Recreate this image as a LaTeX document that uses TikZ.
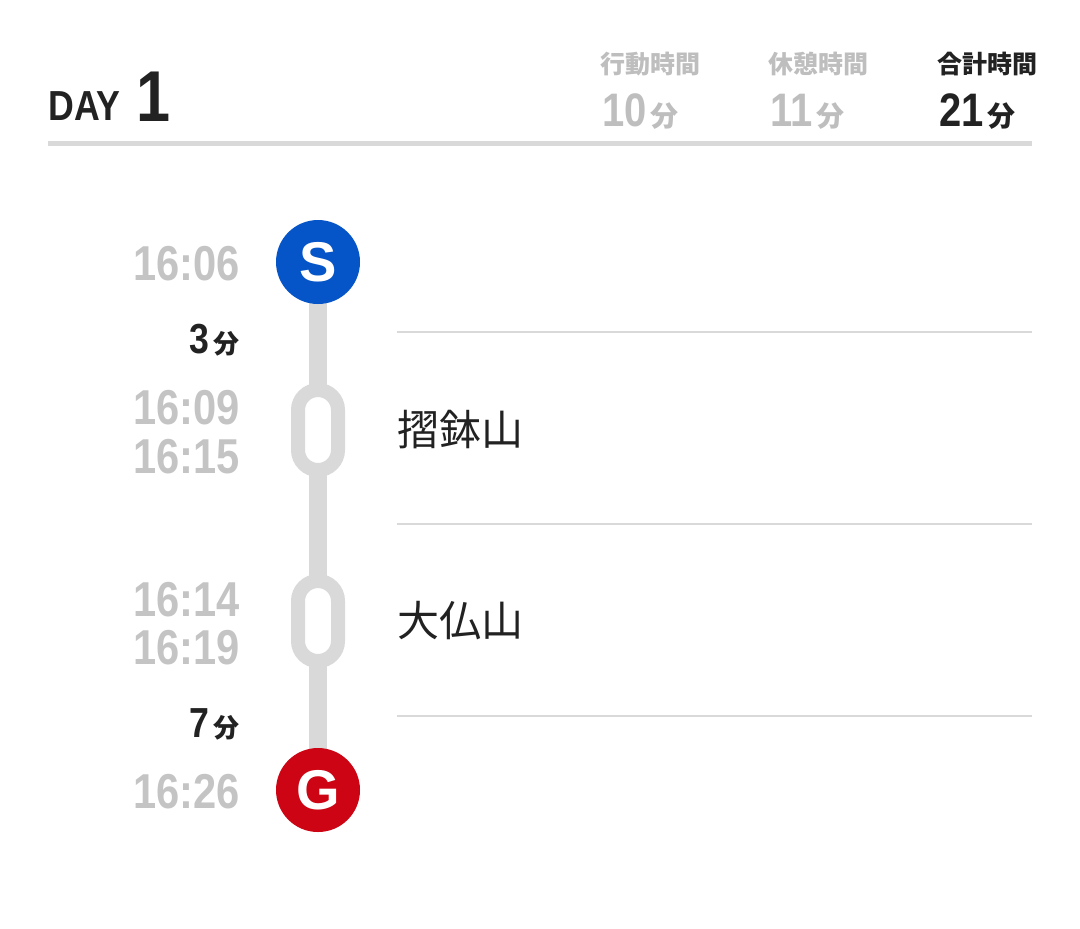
\documentclass[tikz,border=0pt]{standalone}
\usepackage{fontspec}
\setmainfont{Liberation Sans}
\newfontfamily\numfont[FakeStretch=0.85]{Liberation Sans}
\newfontfamily\jpfont{Noto Sans CJK JP}
\usetikzlibrary{backgrounds}
\definecolor{linegray}{HTML}{D9D9D9}
\definecolor{timegray}{HTML}{C4C4C4}
\definecolor{headgray}{HTML}{BEBEBE}
\definecolor{inkdark}{HTML}{222222}
\definecolor{startblue}{HTML}{0555C8}
\definecolor{goalred}{HTML}{CC0414}

\begin{document}
\begin{tikzpicture}[x=0.5pt,y=-0.5pt,
  every node/.style={inner sep=0pt},
  endpoint/.style={circle,minimum size=42pt,text=white,font=\bfseries\fontsize{28}{28}\selectfont},
  stopbox/.style={rectangle,rounded corners=10pt,minimum width=20pt,minimum height=40pt,draw=linegray,line width=7pt,fill=white},
  time/.style={anchor=base east,text=timegray,font=\numfont\bfseries\fontsize{24.5}{24.5}\selectfont},
  leg/.style={anchor=base east,text=inkdark,font=\numfont\bfseries\fontsize{21}{21}\selectfont},
  place/.style={anchor=west,text=inkdark,font=\jpfont\fontsize{21}{21}\selectfont},
  track/.style={draw=linegray,line width=9pt},
  split/.style={draw=linegray,line width=1pt}]
  \useasboundingbox (0,0) rectangle (1080,928);

  \node[anchor=base west,text=inkdark,font=\numfont\bfseries\fontsize{21}{21}\selectfont] (day) at (48,120) {DAY};
  \node[anchor=base west,text=inkdark,font=\numfont\bfseries\fontsize{36}{36}\selectfont] (daynum) at (136,121) {1};
  \foreach \x/\lbl/\val/\col/\nm in {600/行動時間/10/headgray/move,768/休憩時間/11/headgray/pause,937/合計時間/21/inkdark/total}{
    \node[anchor=base west,text=\col,font=\jpfont\bfseries\fontsize{12.5}{12.5}\selectfont] (\nm-head) at (\x,73) {\lbl};
    \node[anchor=base west,text=\col] (\nm-val) at (\x+2,126) {{\numfont\bfseries\fontsize{23.5}{23.5}\selectfont\val}\hspace{2pt}{\jpfont\bfseries\fontsize{14}{14}\selectfont 分}};
  }
  \draw[line width=2.5pt,linegray] (48,143) -- (1032,143);

  \node[endpoint,fill=startblue] (start) at (318,262) {S};
  \node[stopbox] (stop1) at (318,430) {};
  \node[stopbox] (stop2) at (318,621) {};
  \node[endpoint,fill=goalred] (goal) at (318,790) {G};
  \begin{scope}[on background layer]
    \fill[white] (0,0) rectangle (1080,928);
    \draw[track] (start.center) -- (stop1.center) -- (stop2.center) -- (goal.center);
  \end{scope}

  \node[time] (t-start) at (240,280) {16:06};
  \node[leg] (leg1) at (240,353) {3\hspace{2pt}{\jpfont\bfseries\fontsize{13}{13}\selectfont 分}};
  \node[time] (t-arr1) at (240,424) {16:09};
  \node[time] (t-dep1) at (240,473) {16:15};
  \node[time] (t-arr2) at (240,616) {16:14};
  \node[time] (t-dep2) at (240,664) {16:19};
  \node[leg] (leg2) at (240,737) {7\hspace{2pt}{\jpfont\bfseries\fontsize{13}{13}\selectfont 分}};
  \node[time] (t-goal) at (240,808) {16:26};

  \node[place] (name1) at (397,430) {摺鉢山};
  \node[place] (name2) at (397,621) {大仏山};
  \foreach \y in {332,524,716}
    \draw[split] (397,\y) -- (1032,\y);
\end{tikzpicture}
\end{document}
